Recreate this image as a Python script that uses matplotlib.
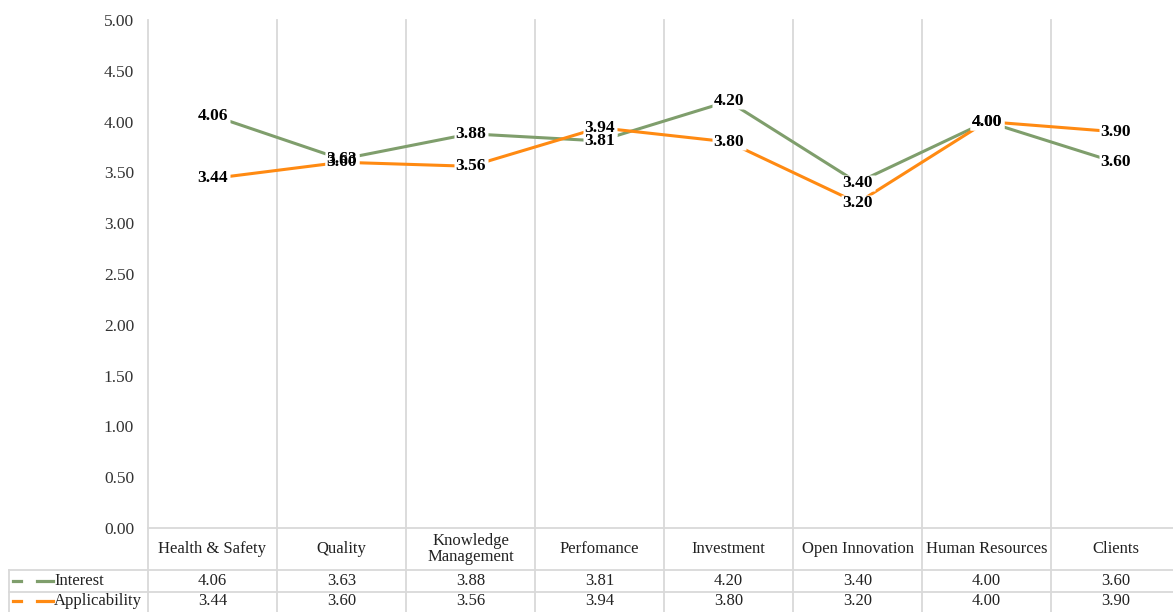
import matplotlib
matplotlib.use("Agg")
import matplotlib.pyplot as plt
from matplotlib.lines import Line2D

categories = ["Health & Safety", "Quality", "Knowledge\nManagement", "Perfomance",
              "Investment", "Open Innovation", "Human Resources", "Clients"]
interest = [4.06, 3.63, 3.88, 3.81, 4.20, 3.40, 4.00, 3.60]
applicability = [3.44, 3.60, 3.56, 3.94, 3.80, 3.20, 4.00, 3.90]
series_names = ["Interest", "Applicability"]
yticks = [0.0, 0.5, 1.0, 1.5, 2.0, 2.5, 3.0, 3.5, 4.0, 4.5, 5.0]

GREEN = "#7F9E6C"
ORANGE = "#FF8A12"
GRID = "#D9D9D9"
FONT = "Liberation Serif"

W, H = 1173, 612
fig = plt.figure(figsize=(W / 100, H / 100), dpi=100)
left_px, right_px, top_px, bot_px = 148, 1180, 20, 528
ax = fig.add_axes([left_px / W, (H - bot_px) / H, (right_px - left_px) / W, (bot_px - top_px) / H])

n = len(categories)
ax.set_xlim(0, n)
ax.set_ylim(0, 5)
for s in ax.spines.values():
    s.set_visible(False)
ax.set_xticks([])
ax.set_yticks(yticks)
ax.set_yticklabels([f"{v:.2f}" for v in yticks], fontfamily=FONT, fontsize=12.5, color="#333333")
ax.tick_params(axis="y", length=0, pad=10)

upp = 5.0 / (bot_px - top_px)
xpp = 1.0 / ((right_px - left_px) / n)

def ypx(p):
    return -(p - bot_px) * upp

def xpx(p):
    return (p - left_px) * xpp

y_row1 = ypx(570)
y_row2 = ypx(592)
y_bottom = ypx(613)
x_leftcol = xpx(9)

for i in range(n + 1):
    ax.plot([i, i], [5, y_bottom], color=GRID, lw=1.3, clip_on=False, zorder=1)
ax.plot([0, n], [0, 0], color=GRID, lw=1.3, clip_on=False, zorder=1)
ax.plot([x_leftcol, n], [y_row1, y_row1], color=GRID, lw=1.3, clip_on=False, zorder=1)
ax.plot([x_leftcol, n], [y_row2, y_row2], color=GRID, lw=1.3, clip_on=False, zorder=1)
ax.plot([x_leftcol, x_leftcol], [y_row1, y_bottom], color=GRID, lw=1.3, clip_on=False, zorder=1)

xs = [i + 0.5 for i in range(n)]
ax.plot(xs, interest, color=GREEN, lw=2.2, zorder=3, solid_capstyle="butt")
ax.plot(xs, applicability, color=ORANGE, lw=2.2, zorder=3, solid_capstyle="butt")

# white backing boxes behind the data labels (hide the lines under the labels)
box = [(-1.0, -0.44), (1.0, -0.44), (1.0, 0.44), (-1.0, 0.44), (-1.0, -0.44)]
for series in (interest, applicability):
    ax.plot(xs, series, linestyle="none", marker=box, markersize=25,
            markerfacecolor="white", markeredgecolor="none", zorder=4)

for series in (interest, applicability):
    for x, v in zip(xs, series):
        ax.text(x, v, f"{v:.2f}", ha="center", va="center", fontfamily=FONT, fontsize=12.5,
                fontweight="bold", color="black", zorder=6)

y_head = (0 + y_row1) / 2
for x, c in zip(xs, categories):
    ax.text(x, y_head, c, ha="center", va="center", fontfamily=FONT, fontsize=12,
            color="#222222", linespacing=1.05, clip_on=False)

rows = [(series_names[0], interest, GREEN, (y_row1 + y_row2) / 2),
        (series_names[1], applicability, ORANGE, (y_row2 + y_bottom) / 2 + 0.01)]
for name, vals, col, yc in rows:
    ax.add_line(Line2D([xpx(13), xpx(21)], [yc, yc], color=col, lw=2.3, clip_on=False))
    ax.add_line(Line2D([xpx(37), xpx(53)], [yc, yc], color=col, lw=2.3, clip_on=False))
    ax.text(xpx(54), yc, name, ha="left", va="center", fontfamily=FONT, fontsize=12,
            color="#222222", clip_on=False)
    for x, v in zip(xs, vals):
        ax.text(x, yc, f"{v:.2f}", ha="center", va="center", fontfamily=FONT, fontsize=12,
                color="#222222", clip_on=False)

fig.savefig("out.png", dpi=100)
